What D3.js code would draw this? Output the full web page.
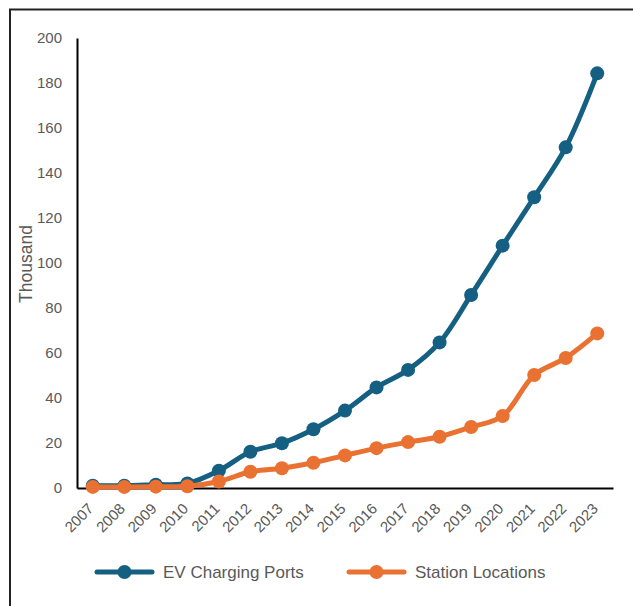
<!DOCTYPE html>
<html>
<head>
<meta charset="utf-8">
<script src="https://cdn.jsdelivr.net/npm/d3@7"></script>
<style>
  body { margin: 0; background: #fff; }
  svg { display: block; font-family: "Liberation Sans", Arial, sans-serif; }
</style>
</head>
<body>
<svg id="chart" width="633" height="606"></svg>
<script>
// data, in thousands
const years = ["2007","2008","2009","2010","2011","2012","2013","2014","2015",
               "2016","2017","2018","2019","2020","2021","2022","2023"]
const chargingPorts = [1, 1, 1.5, 2, 7.7, 16.1, 19.9, 26.1, 34.4, 44.7, 52.5, 64.7, 85.8, 107.7, 129.2, 151.4, 184.3]
const stationLocations = [0.5, 0.5, 0.6, 0.8, 2.9, 7.2, 8.8, 11.2, 14.5, 17.7, 20.4, 22.8, 27.1, 32, 50.2, 57.8, 68.7]
const yTicks = [0, 20, 40, 60, 80, 100, 120, 140, 160, 180, 200]

const BLUE = "#156082"
const ORANGE = "#e97132"
const GREY = "#595959"

const svg = d3.select("#chart")

// outer frame
svg.append("path")
    .attr("d", "M10,640 V9.5 H640")
    .attr("fill", "none")
    .attr("stroke", "#222")
    .attr("stroke-width", 2)

const x = d3.scaleBand()
    .domain(years)
    .range([77, 613])

const y = d3.scaleLinear()
    .domain([0, 200])
    .range([488, 38])

// y axis
const yAxis = svg.append("g")
    .attr("transform", "translate(77,0)")
    .call(d3.axisLeft(y).tickValues(yTicks).tickSize(0).tickPadding(15))
yAxis.select(".domain").attr("stroke", "#000").attr("stroke-width", 2)
yAxis.selectAll("text")
    .attr("fill", GREY)
    .style("font-size", "15px")

svg.append("text")
    .attr("transform", "translate(32,264) rotate(-90)")
    .attr("text-anchor", "middle")
    .attr("fill", GREY)
    .style("font-size", "17.5px")
    .text("Thousand")

// x axis
const xAxis = svg.append("g")
    .attr("transform", "translate(0,488)")
    .call(d3.axisBottom(x).tickSize(0).tickPadding(0))
xAxis.select(".domain").attr("stroke", "#000").attr("stroke-width", 2)
xAxis.selectAll("text")
    .attr("fill", GREY)
    .style("font-size", "15px")
    .attr("text-anchor", "end")
    .attr("y", 0)
    .attr("dy", "0.35em")
    .attr("transform", "translate(-2,18) rotate(-45)")

const line = d3.line()
    .x((d, i) => x(years[i]) + x.bandwidth() / 2)
    .y(d => y(d))
    .curve(d3.curveCatmullRom.alpha(0.5))

const series = [
    { name: "EV Charging Ports", values: chargingPorts, color: BLUE },
    { name: "Station Locations", values: stationLocations, color: ORANGE }
]

series.forEach(s => {
    const g = svg.append("g")
    g.append("path")
        .datum(s.values)
        .attr("d", line)
        .attr("fill", "none")
        .attr("stroke", s.color)
        .attr("stroke-width", 5)
        .attr("stroke-linejoin", "round")
        .attr("stroke-linecap", "round")
    g.selectAll("circle")
        .data(s.values)
        .join("circle")
            .attr("cx", (d, i) => x(years[i]) + x.bandwidth() / 2)
            .attr("cy", d => y(d))
            .attr("r", 7)
            .attr("fill", s.color)
})

// legend
const legend = svg.append("g")
    .selectAll("g")
    .data(series)
    .join("g")
        .attr("transform", (d, i) => `translate(${i === 0 ? 97 : 349},572)`)

legend.append("line")
    .attr("x1", 0).attr("x2", 55)
    .attr("stroke", d => d.color)
    .attr("stroke-width", 5)
    .attr("stroke-linecap", "round")
legend.append("circle")
    .attr("cx", 27.5)
    .attr("r", 7)
    .attr("fill", d => d.color)
legend.append("text")
    .attr("x", 66)
    .attr("dy", "0.35em")
    .attr("fill", GREY)
    .style("font-size", "17px")
    .text(d => d.name)
</script>
</body>
</html>
